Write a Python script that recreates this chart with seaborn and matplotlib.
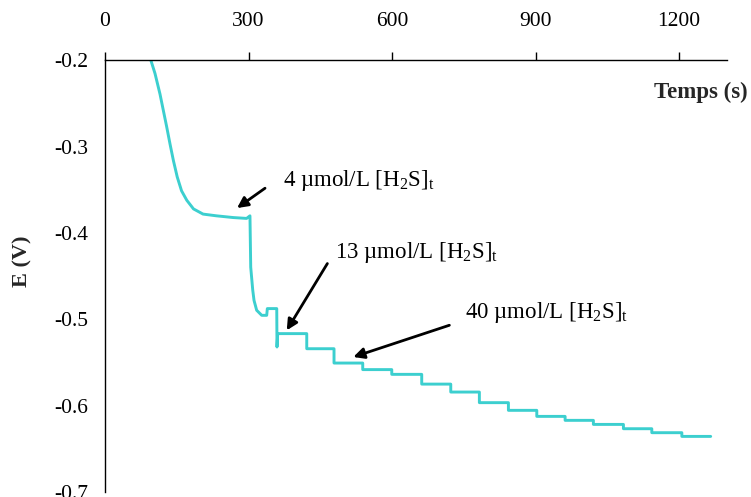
import numpy as np
import pandas as pd
import matplotlib
matplotlib.use("Agg")
import matplotlib.pyplot as plt
import seaborn as sns

# ---- data ----
# transient part (initial decay and first drop), time in s, potential in V
transient_t = [96, 104.5, 115, 122, 129, 136, 143, 151, 160, 171, 185, 205, 233, 268, 296, 303,
               304.6, 308.8, 311.5, 317, 327.6, 338, 339.3, 359, 359.5]
transient_E = [-0.200, -0.215, -0.239, -0.258, -0.277, -0.297, -0.316, -0.335, -0.351, -0.362,
               -0.372, -0.378, -0.380, -0.382, -0.383, -0.380,
               -0.4396, -0.466, -0.478, -0.4894, -0.4953, -0.4953, -0.4875, -0.4875, -0.532]
# successive plateaus after each addition
plateau_start = [361, 421.7, 478.7, 538.7, 599.4, 662, 722.7, 782.5, 843.2, 902.5, 961.7,
                 1020.8, 1083.6, 1142.9, 1205.7]
plateau_E = [-0.5165, -0.534, -0.5506, -0.5582, -0.5637, -0.575, -0.5842, -0.5965, -0.6054,
             -0.6124, -0.617, -0.6217, -0.6267, -0.6313, -0.6356]
end_time = 1266

x_ticks = [0, 300, 600, 900, 1200]
y_ticks = [-0.7, -0.6, -0.5, -0.4, -0.3, -0.2]
y_ticklabels = ["-0.7", "-0.6", "-0.5", "-0.4", "-0.3", "-0.2"]

annotations = ["4 µmol/L [H$_2$S]$_\\mathrm{t}$",
               "13 µmol/L [H$_2$S]$_\\mathrm{t}$",
               "40 µmol/L [H$_2$S]$_\\mathrm{t}$"]

# ---- build the series ----
ts, es = list(transient_t), list(transient_E)
ends = plateau_start[1:] + [end_time]
for s, e, lvl in zip(plateau_start, ends, plateau_E):
    ts += [s, e]
    es += [lvl, lvl]
df = pd.DataFrame({"Temps (s)": ts, "E (V)": es})

sns.set_style("white")
plt.rcParams["font.family"] = ["Liberation Serif", "DejaVu Serif"]
plt.rcParams["mathtext.fontset"] = "custom"
plt.rcParams["mathtext.rm"] = "Liberation Serif"
plt.rcParams["mathtext.it"] = "Liberation Serif:italic"
plt.rcParams["mathtext.bf"] = "Liberation Serif:bold"
plt.rcParams["axes.unicode_minus"] = False

fig = plt.figure(figsize=(7.51, 4.97), dpi=100)
ax = fig.add_axes([0.1398, 0.0101, 0.8282, 0.8682])

sns.lineplot(data=df, x="Temps (s)", y="E (V)", sort=False, estimator=None,
             color="#3CCFCF", lw=2.1, ax=ax)

ax.set_xlim(0, 1300)
ax.set_ylim(-0.7, -0.2)
ax.xaxis.tick_top()
ax.set_xticks(x_ticks)
ax.set_xticklabels([str(v) for v in x_ticks])
ax.set_yticks(y_ticks)
ax.set_yticklabels(y_ticklabels)
ax.tick_params(axis="x", direction="out", length=6, width=1, pad=15, labelsize=15.5, colors="black")
ax.tick_params(axis="y", direction="out", length=6, width=1, pad=6, labelsize=15.5, colors="black")
for side in ["right", "bottom"]:
    ax.spines[side].set_visible(False)
for side in ["left", "top"]:
    ax.spines[side].set_color("black")
    ax.spines[side].set_linewidth(1)

ax.set_xlabel("Temps (s)", fontsize=16.5, fontweight="bold", ha="right", va="center")
ax.xaxis.set_label_coords(1.034, 0.927)
ax.set_ylabel("E (V)", fontsize=16, fontweight="bold", va="center")
ax.yaxis.set_label_coords(-0.132, 0.535)

arrow_tails = [(334.5, -0.348), (464.8, -0.4353), (719.8, -0.5068)]
arrow_heads = [(276, -0.371), (379.9, -0.5127), (519, -0.5436)]
text_pos = [(373, -0.339), (481, -0.422), (752, -0.4918)]

for txt, tail, head, tp in zip(annotations, arrow_tails, arrow_heads, text_pos):
    ax.annotate("", xy=head, xytext=tail,
                arrowprops=dict(arrowstyle="-|>", color="black", lw=2,
                                mutation_scale=16, shrinkA=0, shrinkB=0))
    ax.text(tp[0], tp[1], txt, fontsize=16.5, ha="left", va="center", color="black")

fig.savefig("out.png", dpi=100)
